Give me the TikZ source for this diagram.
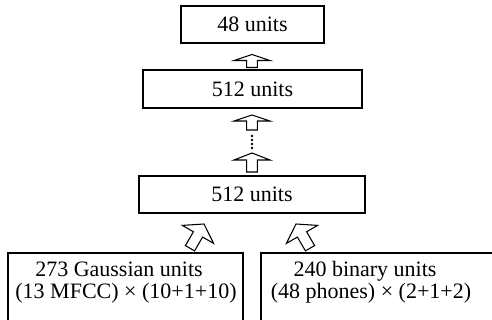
\documentclass[tikz,border=0pt]{standalone}
\usepackage{fontspec}
\setmainfont{Liberation Serif}
\begin{document}
\begin{tikzpicture}[x=0.75pt,y=-0.75pt,
  font=\fontsize{16.5}{19}\selectfont,
  box/.style={draw, line width=0.8pt, inner sep=0pt, rectangle},
  lbl/.style={inner sep=0pt, anchor=base},
  pics/barrow/.style n args={3}{code={
    \draw[line width=0.8pt, line join=miter, fill=white]
      (0,0) -- (18,#1) -- (5.3,#1) -- (5.3,#2) -- (-5.3,#2) -- (-5.3,#1) -- (-18,#1) -- cycle;}},
  dot/.style={circle, fill=black, inner sep=0pt, minimum size=2.2pt}]
\useasboundingbox (0,0) rectangle (492,320);
\clip (0,0) rectangle (492,320);
% boxes
\node[box, minimum width=143*0.75pt, minimum height=37*0.75pt] (out) at (252.5,24.5) {48 units};
\node[box, minimum width=219*0.75pt, minimum height=38*0.75pt] (h2) at (252.5,89) {512 units};
\node[box, minimum width=226*0.75pt, minimum height=37*0.75pt] (h1) at (252,194.5) {512 units};
\node[box, minimum width=235*0.75pt, minimum height=100*0.75pt] (vis) at (125.5,303) {};
\node[box, minimum width=239*0.75pt, minimum height=100*0.75pt] (lab) at (380.5,303) {};
% bottom texts
\node[lbl] (g1) at (119,276) {273 Gaussian units};
\node[lbl] (g2) at (126,298) {(13 MFCC) × (10+1+10)};
\node[lbl] (b1) at (365,276) {240 binary units};
\node[lbl] (b2) at (371,298) {(48 phones) × (2+1+2)};
% block arrows
\pic at (252,54.5) {barrow={6}{13}{}};
\pic at (252,115) {barrow={6}{15}{}};
\pic at (252,153) {barrow={7}{19}{}};
\pic[rotate=-30] at (204,224) {barrow={12}{28}{}};
\pic[rotate=30] at (296,224) {barrow={12}{28}{}};
% dots
\node[dot] (d1) at (252,136) {};
\node[dot] (d2) at (252,140) {};
\node[dot] (d3) at (252,144) {};
\node[dot] (d4) at (252,148) {};
\end{tikzpicture}
\end{document}
